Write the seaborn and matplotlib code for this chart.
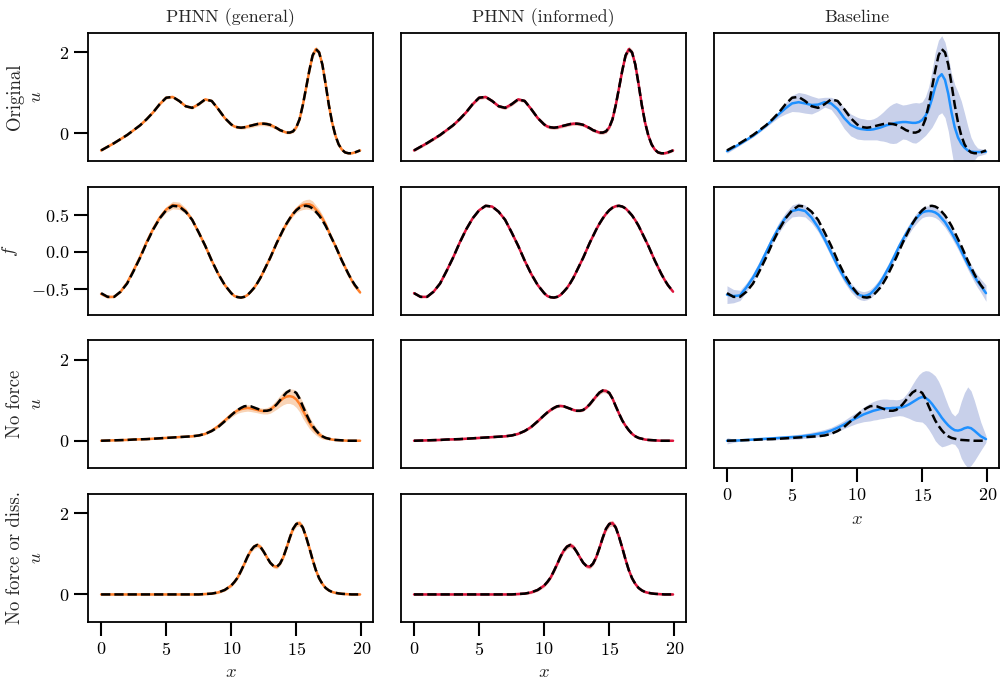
import numpy as np
import matplotlib
matplotlib.use("Agg")
import matplotlib.pyplot as plt
import seaborn as sns

# spatial grid: coarse on the smooth left part, finer where the waves are sharp
X = np.concatenate([np.arange(0, 10, 0.5), np.arange(10, 19.75, 0.25), [19.9]])

# ---- Original system, u ----
u_orig_true = [-0.42, -0.33, -0.24, -0.14, -0.04, 0.08, 0.20, 0.35, 0.52, 0.72,
               0.88, 0.90, 0.80, 0.67, 0.63, 0.72, 0.84, 0.80, 0.60, 0.38,
               0.22, 0.17, 0.15, 0.14, 0.15, 0.17, 0.19, 0.21,
               0.23, 0.24, 0.24, 0.23, 0.21, 0.17, 0.13, 0.08,
               0.05, 0.02, 0.02, 0.05, 0.15, 0.35, 0.70, 1.12,
               1.55, 1.92, 2.08, 2.00, 1.70, 1.22, 0.70, 0.27,
               -0.05, -0.27, -0.40, -0.47, -0.49, -0.49, -0.47, -0.42]
u_orig_gen_hw = [0.02, 0.02, 0.02, 0.02, 0.02, 0.02, 0.02, 0.02, 0.02, 0.03,
                 0.03, 0.03, 0.03, 0.03, 0.03, 0.03, 0.03, 0.03, 0.03, 0.03,
                 0.03, 0.03, 0.03, 0.035, 0.04, 0.045, 0.05, 0.05,
                 0.05, 0.05, 0.05, 0.05, 0.05, 0.045, 0.04, 0.035,
                 0.03, 0.03, 0.03, 0.035, 0.04, 0.05, 0.06, 0.065,
                 0.07, 0.07, 0.07, 0.07, 0.07, 0.065, 0.06, 0.05,
                 0.04, 0.035, 0.03, 0.025, 0.02, 0.02, 0.02, 0.02]
u_orig_inf_hw = [0.03, 0.03, 0.03, 0.03, 0.03, 0.03, 0.03, 0.03, 0.03, 0.03,
                 0.04, 0.04, 0.04, 0.04, 0.04, 0.04, 0.04, 0.04, 0.04, 0.04,
                 0.04, 0.04, 0.04, 0.04, 0.04, 0.04, 0.04, 0.04,
                 0.04, 0.04, 0.04, 0.04, 0.04, 0.04, 0.04, 0.04,
                 0.04, 0.04, 0.04, 0.045, 0.05, 0.055, 0.06, 0.065,
                 0.07, 0.07, 0.07, 0.07, 0.07, 0.065, 0.06, 0.055,
                 0.05, 0.045, 0.04, 0.035, 0.03, 0.03, 0.03, 0.03]
u_orig_base = [-0.44, -0.35, -0.26, -0.16, -0.06, 0.06, 0.19, 0.33, 0.48, 0.62,
               0.74, 0.77, 0.74, 0.70, 0.71, 0.77, 0.74, 0.60, 0.38, 0.21,
               0.13, 0.11, 0.10, 0.09, 0.09, 0.10, 0.12, 0.14,
               0.17, 0.20, 0.22, 0.24, 0.26, 0.27, 0.28, 0.28,
               0.27, 0.26, 0.26, 0.28, 0.33, 0.43, 0.60, 0.85,
               1.15, 1.38, 1.46, 1.32, 0.98, 0.52, 0.15, -0.10,
               -0.25, -0.35, -0.42, -0.45, -0.46, -0.46, -0.46, -0.45]
u_orig_base_hw = [0.05, 0.04, 0.03, 0.03, 0.03, 0.03, 0.04, 0.05, 0.08, 0.14,
                  0.20, 0.24, 0.24, 0.22, 0.16, 0.12, 0.15, 0.22, 0.26, 0.27,
                  0.27, 0.26, 0.26, 0.25, 0.25, 0.26, 0.28, 0.32,
                  0.36, 0.41, 0.46, 0.49, 0.50, 0.46, 0.42, 0.43,
                  0.46, 0.49, 0.50, 0.47, 0.45, 0.48, 0.55, 0.70,
                  0.85, 0.92, 0.95, 0.93, 0.92, 0.95, 1.05, 1.12,
                  1.05, 0.85, 0.60, 0.35, 0.20, 0.10, 0.08, 0.05]

# ---- external force f ----
f_true = [-0.56, -0.61, -0.61, -0.54, -0.43, -0.26, -0.08, 0.12, 0.30, 0.45,
          0.56, 0.62, 0.61, 0.54, 0.43, 0.26, 0.08, -0.12, -0.30, -0.45,
          -0.56, -0.60, -0.615, -0.62, -0.61, -0.585, -0.54, -0.49,
          -0.425, -0.35, -0.26, -0.17, -0.08, 0.02, 0.12, 0.21,
          0.30, 0.38, 0.45, 0.51, 0.56, 0.595, 0.615, 0.62,
          0.61, 0.585, 0.54, 0.49, 0.425, 0.35, 0.26, 0.17,
          0.08, -0.02, -0.12, -0.21, -0.30, -0.38, -0.45, -0.54]
f_gen = [-0.57, -0.61, -0.61, -0.54, -0.42, -0.25, -0.07, 0.13, 0.31, 0.46,
         0.57, 0.63, 0.62, 0.55, 0.43, 0.26, 0.08, -0.12, -0.30, -0.45,
         -0.56, -0.60, -0.61, -0.62, -0.61, -0.585, -0.54, -0.49,
         -0.425, -0.35, -0.26, -0.17, -0.08, 0.02, 0.12, 0.21,
         0.30, 0.38, 0.45, 0.515, 0.57, 0.605, 0.63, 0.64,
         0.64, 0.62, 0.57, 0.52, 0.45, 0.37, 0.27, 0.17,
         0.08, -0.02, -0.12, -0.21, -0.30, -0.385, -0.46, -0.55]
f_gen_hw = [0.02, 0.02, 0.01, 0.01, 0.01, 0.02, 0.02, 0.02, 0.03, 0.03,
            0.04, 0.05, 0.05, 0.04, 0.03, 0.02, 0.02, 0.02, 0.01, 0.01,
            0.01, 0.01, 0.01, 0.01, 0.01, 0.01, 0.01, 0.01,
            0.01, 0.015, 0.02, 0.02, 0.02, 0.02, 0.02, 0.025,
            0.03, 0.03, 0.03, 0.035, 0.04, 0.05, 0.06, 0.065,
            0.07, 0.065, 0.06, 0.055, 0.05, 0.04, 0.03, 0.025,
            0.02, 0.02, 0.02, 0.02, 0.02, 0.02, 0.02, 0.02]
f_inf_hw = [0.01, 0.01, 0.01, 0.01, 0.01, 0.01, 0.01, 0.01, 0.01, 0.01,
            0.01, 0.01, 0.01, 0.01, 0.01, 0.01, 0.01, 0.01, 0.01, 0.01,
            0.01, 0.01, 0.01, 0.01, 0.01, 0.01, 0.01, 0.01,
            0.01, 0.01, 0.01, 0.01, 0.01, 0.01, 0.01, 0.01,
            0.01, 0.01, 0.01, 0.01, 0.01, 0.01, 0.01, 0.01,
            0.01, 0.01, 0.01, 0.01, 0.01, 0.01, 0.01, 0.01,
            0.01, 0.01, 0.01, 0.01, 0.01, 0.01, 0.01, 0.01]
f_base = [-0.58, -0.60, -0.59, -0.48, -0.35, -0.19, -0.01, 0.17, 0.33, 0.46,
          0.55, 0.57, 0.55, 0.46, 0.33, 0.17, -0.01, -0.19, -0.35, -0.48,
          -0.57, -0.59, -0.60, -0.59, -0.57, -0.53, -0.48, -0.42,
          -0.35, -0.27, -0.19, -0.10, -0.01, 0.08, 0.16, 0.24,
          0.31, 0.38, 0.44, 0.49, 0.53, 0.545, 0.55, 0.545,
          0.53, 0.50, 0.45, 0.40, 0.33, 0.26, 0.18, 0.10,
          0.01, -0.08, -0.17, -0.25, -0.33, -0.40, -0.46, -0.56]
f_base_hw = [0.12, 0.09, 0.07, 0.06, 0.06, 0.06, 0.06, 0.06, 0.07, 0.07,
             0.08, 0.09, 0.08, 0.07, 0.06, 0.06, 0.06, 0.06, 0.06, 0.06,
             0.06, 0.06, 0.06, 0.06, 0.06, 0.06, 0.06, 0.06,
             0.06, 0.06, 0.06, 0.06, 0.06, 0.06, 0.06, 0.065,
             0.065, 0.065, 0.07, 0.07, 0.07, 0.07, 0.07, 0.07,
             0.07, 0.07, 0.07, 0.07, 0.07, 0.07, 0.07, 0.07,
             0.07, 0.07, 0.07, 0.075, 0.08, 0.085, 0.09, 0.11]

# ---- No force, u ----
u_nf_true = [0.0, 0.005, 0.01, 0.015, 0.02, 0.03, 0.035, 0.04, 0.05, 0.06,
             0.07, 0.08, 0.09, 0.10, 0.11, 0.13, 0.17, 0.24, 0.34, 0.48,
             0.63, 0.70, 0.76, 0.81, 0.85, 0.86, 0.85, 0.82,
             0.79, 0.76, 0.74, 0.74, 0.76, 0.82, 0.90, 1.00,
             1.10, 1.19, 1.24, 1.23, 1.18, 1.04, 0.85, 0.67,
             0.50, 0.37, 0.26, 0.17, 0.11, 0.07, 0.05, 0.03,
             0.02, 0.015, 0.01, 0.005, 0.0, 0.0, 0.0, 0.0]
u_nf_gen = [0.0, 0.005, 0.01, 0.015, 0.02, 0.03, 0.035, 0.04, 0.05, 0.06,
            0.07, 0.08, 0.09, 0.10, 0.11, 0.13, 0.17, 0.25, 0.36, 0.50,
            0.64, 0.70, 0.75, 0.78, 0.80, 0.81, 0.80, 0.78,
            0.76, 0.74, 0.73, 0.74, 0.77, 0.83, 0.90, 0.98,
            1.05, 1.09, 1.10, 1.08, 1.02, 0.91, 0.75, 0.60,
            0.45, 0.33, 0.24, 0.16, 0.10, 0.07, 0.05, 0.03,
            0.02, 0.015, 0.01, 0.005, 0.0, 0.0, 0.0, 0.0]
u_nf_gen_hw = [0.01, 0.01, 0.01, 0.01, 0.01, 0.01, 0.01, 0.01, 0.01, 0.01,
               0.01, 0.01, 0.01, 0.01, 0.02, 0.02, 0.02, 0.03, 0.04, 0.05,
               0.06, 0.065, 0.07, 0.075, 0.08, 0.08, 0.08, 0.075,
               0.07, 0.07, 0.07, 0.08, 0.09, 0.10, 0.12, 0.14,
               0.16, 0.17, 0.18, 0.19, 0.20, 0.20, 0.20, 0.18,
               0.15, 0.12, 0.10, 0.08, 0.06, 0.04, 0.03, 0.025,
               0.02, 0.015, 0.01, 0.01, 0.01, 0.01, 0.01, 0.01]
u_nf_inf_hw = [0.02, 0.02, 0.02, 0.02, 0.02, 0.02, 0.02, 0.02, 0.02, 0.02,
               0.02, 0.02, 0.02, 0.02, 0.02, 0.02, 0.02, 0.02, 0.03, 0.03,
               0.03, 0.03, 0.03, 0.03, 0.03, 0.03, 0.03, 0.03,
               0.03, 0.03, 0.03, 0.03, 0.03, 0.03, 0.04, 0.04,
               0.04, 0.05, 0.05, 0.05, 0.05, 0.05, 0.05, 0.04,
               0.04, 0.03, 0.03, 0.03, 0.03, 0.02, 0.02, 0.02,
               0.02, 0.02, 0.02, 0.02, 0.02, 0.02, 0.02, 0.02]
u_nf_base = [0.0, 0.0, 0.01, 0.02, 0.03, 0.04, 0.05, 0.06, 0.07, 0.08,
             0.09, 0.10, 0.12, 0.14, 0.17, 0.20, 0.25, 0.32, 0.40, 0.49,
             0.57, 0.61, 0.65, 0.68, 0.71, 0.74, 0.76, 0.78,
             0.79, 0.80, 0.80, 0.81, 0.81, 0.82, 0.83, 0.86,
             0.90, 0.95, 1.00, 1.05, 1.08, 1.06, 1.00, 0.91,
             0.80, 0.69, 0.57, 0.47, 0.38, 0.31, 0.26, 0.25,
             0.27, 0.31, 0.33, 0.31, 0.25, 0.18, 0.11, 0.04]
u_nf_base_hw = [0.08, 0.04, 0.02, 0.02, 0.02, 0.03, 0.03, 0.04, 0.04, 0.05,
                0.05, 0.06, 0.06, 0.07, 0.07, 0.08, 0.08, 0.09, 0.10, 0.12,
                0.14, 0.16, 0.18, 0.20, 0.22, 0.23, 0.24, 0.24,
                0.24, 0.23, 0.22, 0.21, 0.20, 0.20, 0.22, 0.28,
                0.35, 0.44, 0.52, 0.58, 0.62, 0.67, 0.72, 0.76,
                0.80, 0.78, 0.72, 0.60, 0.48, 0.38, 0.35, 0.45,
                0.70, 0.88, 1.00, 0.92, 0.75, 0.55, 0.35, 0.08]

# ---- No force or dissipation, u ----
u_nfd_true = [0.0, 0.0, 0.0, 0.0, 0.0, 0.0, 0.0, 0.0, 0.0, 0.0,
              0.0, 0.0, 0.0, 0.0, 0.0, 0.0, 0.01, 0.02, 0.05, 0.11,
              0.22, 0.31, 0.42, 0.58, 0.75, 0.93, 1.08, 1.18,
              1.22, 1.17, 1.05, 0.91, 0.78, 0.70, 0.68, 0.76,
              0.92, 1.15, 1.40, 1.62, 1.74, 1.76, 1.65, 1.42,
              1.15, 0.86, 0.60, 0.40, 0.26, 0.16, 0.10, 0.06,
              0.04, 0.025, 0.015, 0.01, 0.005, 0.0, 0.0, 0.0]
u_nfd_hw = [0.02, 0.02, 0.02, 0.02, 0.02, 0.02, 0.02, 0.02, 0.02, 0.02,
            0.02, 0.02, 0.02, 0.02, 0.02, 0.02, 0.02, 0.02, 0.03, 0.03,
            0.04, 0.04, 0.04, 0.05, 0.05, 0.05, 0.05, 0.06,
            0.06, 0.06, 0.05, 0.05, 0.05, 0.05, 0.05, 0.05,
            0.05, 0.06, 0.06, 0.07, 0.07, 0.07, 0.07, 0.07,
            0.06, 0.06, 0.05, 0.05, 0.04, 0.03, 0.03, 0.02,
            0.02, 0.02, 0.02, 0.02, 0.02, 0.02, 0.02, 0.02]

COL_TITLES = ["PHNN (general)", "PHNN (informed)", "Baseline"]
ROW_LABELS = ["Original\n$u$", "$f$", "No force\n$u$", "No force or diss.\n$u$"]

C_GEN, B_GEN = "#ff7f2a", "#f9d4b6"
C_INF, B_INF = "#dc143c", "#ebbab4"
C_BASE, B_BASE = "#1e90ff", "#c8d0ea"

# (row, col) -> (prediction mean, band half-width, reference); PHNN curves that
# sit on the reference are drawn from the reference values themselves
PANELS = {
    (0, 0): (u_orig_true, u_orig_gen_hw, u_orig_true),
    (0, 1): (u_orig_true, u_orig_inf_hw, u_orig_true),
    (0, 2): (u_orig_base, u_orig_base_hw, u_orig_true),
    (1, 0): (f_gen, f_gen_hw, f_true),
    (1, 1): (f_true, f_inf_hw, f_true),
    (1, 2): (f_base, f_base_hw, f_true),
    (2, 0): (u_nf_gen, u_nf_gen_hw, u_nf_true),
    (2, 1): (u_nf_true, u_nf_inf_hw, u_nf_true),
    (2, 2): (u_nf_base, u_nf_base_hw, u_nf_true),
    (3, 0): (u_nfd_true, u_nfd_hw, u_nfd_true),
    (3, 1): (u_nfd_true, u_nfd_hw, u_nfd_true),
}
COLORS = [(C_GEN, B_GEN), (C_INF, B_INF), (C_BASE, B_BASE)]

sns.set_theme(style="ticks")
plt.rcParams.update({
    "font.family": "serif",
    "font.serif": ["cmr10"],
    "mathtext.fontset": "cm",
    "axes.formatter.use_mathtext": True,
    "font.size": 13,
    "axes.titlesize": 13,
    "axes.labelsize": 13.5,
    "xtick.labelsize": 13,
    "ytick.labelsize": 13,
    "axes.edgecolor": "black",
    "axes.linewidth": 1.3,
    "xtick.major.size": 10,
    "ytick.major.size": 10,
    "xtick.major.width": 1.5,
    "ytick.major.width": 1.5,
    "xtick.color": "black",
    "ytick.color": "black",
})

fig, axes = plt.subplots(4, 3, figsize=(10.01, 6.85), dpi=100)
fig.subplots_adjust(left=0.088, right=0.998, top=0.952, bottom=0.092,
                    wspace=0.098, hspace=0.20)

for r in range(4):
    for c in range(3):
        ax = axes[r, c]
        if (r, c) not in PANELS:
            ax.axis("off")
            continue
        mean, hw, truth = PANELS[(r, c)]
        color, band = COLORS[c]
        mean = np.array(mean)
        hw = np.array(hw)
        ax.fill_between(X, mean - hw, mean + hw, color=band, lw=0, zorder=1)
        sns.lineplot(x=X, y=mean, color=color, lw=1.8, ax=ax, zorder=2)
        sns.lineplot(x=X, y=truth, color="black", lw=1.8, ls="--", ax=ax, zorder=3)

        ax.set_xlim(-1.0, 20.9)
        if r == 1:
            ax.set_ylim(-0.85, 0.88)
        else:
            ax.set_ylim(-0.68, 2.48)

        if r == 3 or (r == 2 and c == 2):
            ax.set_xticks([0, 5, 10, 15, 20])
            ax.set_xlabel("$x$")
        else:
            ax.set_xticks([])
            ax.set_xlabel("")

        if c == 0:
            if r == 1:
                ax.set_yticks([-0.5, 0.0, 0.5])
                ax.set_yticklabels([r"$\mathbf{-0.5}$", r"$\mathbf{0.0}$", r"$\mathbf{0.5}$"])
                ax.set_ylabel(ROW_LABELS[r], labelpad=8)
            else:
                ax.set_yticks([0, 2])
                ax.set_ylabel(ROW_LABELS[r], labelpad=10)
        else:
            ax.set_yticks([])
            ax.set_ylabel("")

        if r == 0:
            ax.set_title(COL_TITLES[c], pad=8)

fig.savefig("out.png", dpi=100)
